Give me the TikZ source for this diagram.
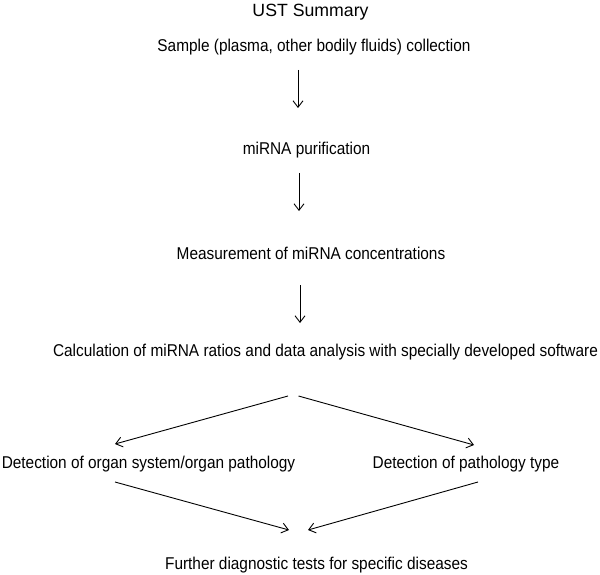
\documentclass[tikz,border=0pt]{standalone}
\usepackage{fontspec}
\setmainfont{Liberation Sans}[FakeStretch=0.9]
\newfontfamily\titlefont{Liberation Sans}
\usetikzlibrary{arrows.meta}
\tikzset{
  lbl/.style={anchor=base, inner sep=0pt, font=\fontsize{17.1}{20}\selectfont},
  ttl/.style={anchor=base, inner sep=0pt, font=\titlefont\fontsize{17.7}{21}\selectfont},
  arr/.style={line width=0.9pt, -{Straight Barb[length=6.5pt,width=10pt,line width=0.9pt]}}
}
\begin{document}
\begin{tikzpicture}[x=1pt,y=-1pt]
\useasboundingbox[fill=white] (0,0) rectangle (600,575);
\node[ttl] (title) at (310.5,16.7) {UST Summary};
\node[lbl] (sample) at (314,51.7) {Sample (plasma, other bodily fluids) collection};
\node[lbl] (purif) at (306.5,155) {miRNA purification};
\node[lbl] (meas) at (311,259) {Measurement of miRNA concentrations};
\node[lbl] (calc) at (325.5,356) {Calculation of miRNA ratios and data analysis with specially developed software};
\node[lbl] (detL) at (148.5,468) {Detection of organ system/organ pathology};
\node[lbl] (detR) at (466,468) {Detection of pathology type};
\node[lbl] (further) at (316.5,569) {Further diagnostic tests for specific diseases};
% connector ends
\coordinate (a1s) at (298,70);   \coordinate (a1e) at (298,108);
\coordinate (a2s) at (299,173);  \coordinate (a2e) at (299,211);
\coordinate (a3s) at (300,285);  \coordinate (a3e) at (300,323);
\coordinate (dLs) at (288,396);  \coordinate (dLe) at (115,444);
\coordinate (dRs) at (298.5,396);\coordinate (dRe) at (474,445);
\coordinate (cLs) at (115,482);  \coordinate (cLe) at (289,530);
\coordinate (cRs) at (478,482);  \coordinate (cRe) at (308,530);
\draw[arr] (a1s) -- (a1e);
\draw[arr] (a2s) -- (a2e);
\draw[arr] (a3s) -- (a3e);
\draw[arr] (dLs) -- (dLe);
\draw[arr] (dRs) -- (dRe);
\draw[arr] (cLs) -- (cLe);
\draw[arr] (cRs) -- (cRe);
\end{tikzpicture}
\end{document}
